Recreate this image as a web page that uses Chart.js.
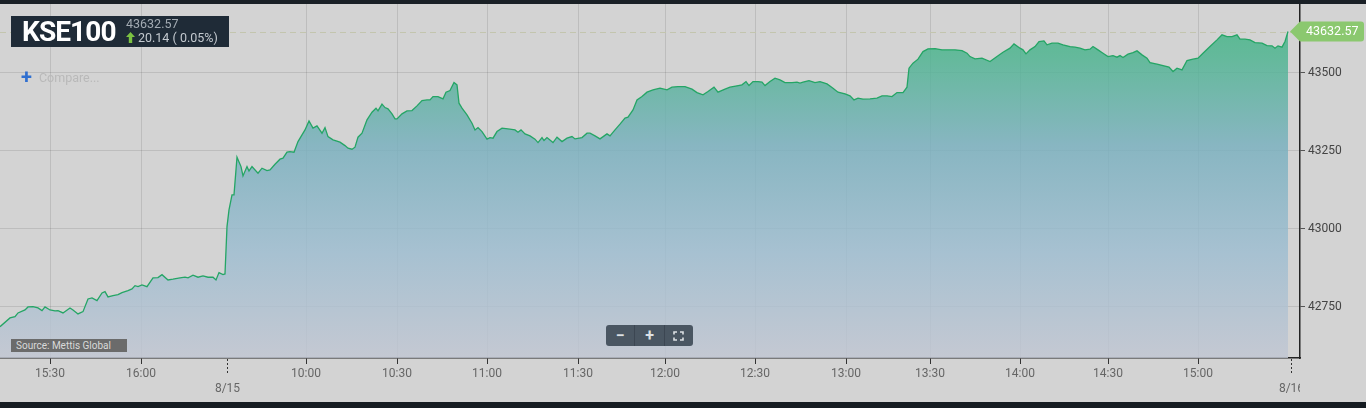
<!DOCTYPE html>
<html><head><meta charset="utf-8">
<script src="https://cdn.jsdelivr.net/npm/chart.js@4.4.1/dist/chart.umd.min.js"></script>
<style>
html,body{margin:0;padding:0;}
body{width:1366px;height:408px;background:#d3d3d3;position:relative;overflow:hidden;font-family:Roboto,'Open Sans',sans-serif;}
#topband{position:absolute;left:0;top:0;width:1366px;height:4px;background:#1a2026;}
#botband{position:absolute;left:0;top:402px;width:1366px;height:6px;background:#161c22;}
#wrap{position:absolute;left:0;top:4px;width:1366px;height:398px;}
#hdr{position:absolute;left:11px;top:16px;width:218px;height:31px;background:#1f2b37;}
#sym{position:absolute;left:11px;top:0px;height:31px;line-height:31px;font-size:28px;font-weight:700;color:#fff;letter-spacing:-0.9px;}
#last{position:absolute;left:115px;top:1px;font-size:12.5px;line-height:14px;color:#a3abb3;}
#chg{position:absolute;left:115px;top:14px;font-size:12.5px;line-height:16px;color:#c3c9cf;white-space:pre;}
#chg svg{vertical-align:-1px;margin-right:3px;}
#cmp{position:absolute;left:21px;top:68px;font-size:12.5px;color:#b9b9b9;line-height:18px;}
#cmp b{color:#2f6fd0;font-size:20px;font-weight:700;margin-right:7px;vertical-align:-2px;}
#src{position:absolute;left:11px;top:339px;width:116px;height:13px;background:#6b6b6b;color:#d9d9d9;font-size:10px;line-height:13px;}
#src span{margin-left:5px;}
#zoom{position:absolute;left:606px;top:325px;width:87px;height:21px;background:#4a5662;border-radius:3px;display:flex;}
#zoom div{width:29px;height:21px;display:flex;align-items:center;justify-content:center;color:#dde1e5;font-weight:700;font-size:16px;}
#zoom div+div{border-left:1px solid #3c4652;}
</style></head>
<body>
<div id="topband"></div>
<div id="wrap"><canvas id="c" width="1366" height="398"></canvas></div>
<div id="botband"></div>
<div id="hdr"><div id="sym">KSE100</div><div id="last"></div><div id="chg"></div></div>
<div id="cmp"><b>+</b>Compare...</div>
<div id="src"><span>Source: Mettis Global</span></div>
<div id="zoom"><div>&#8722;</div><div>+</div><div><svg width="11" height="10" viewBox="0 0 11 10"><path d="M1 3.5V1h3M7 1h3v2.5M10 6.5V9H7M4 9H1V6.5" fill="none" stroke="#dde1e5" stroke-width="1.6"/></svg></div></div>
<script>
// ---- data (elapsed trading seconds along the ordinal axis, index level) ----
const symbol = 'KSE100';
const prevClose = 43612.43;
const times = [
0,200,300,360,500,560,660,760,840,900,
1000,1100,1160,1260,1400,1460,1560,1660,1760,1840,
1940,2040,2100,2160,2260,2360,2440,2560,2640,2700,
2760,2840,2940,3060,3160,3240,3360,3460,3600,3700,
3760,3860,3960,4060,4160,4260,4320,4380,4460,4500,
4540,4580,4640,4680,4740,4820,4860,4940,4980,5040,
5160,5240,5340,5400,5500,5600,5660,5740,5800,5880,
5960,6040,6100,6180,6260,6340,6440,6500,6560,6660,
6800,6900,6960,7040,7100,7160,7240,7340,7440,7520,
7560,7640,7700,7760,7840,7900,7940,8040,8140,8240,
8340,8440,8540,8600,8660,8760,8860,8920,9000,9080,
9140,9180,9240,9340,9440,9500,9560,9640,9740,9800,
9860,9940,10040,10160,10300,10360,10420,10500,10600,10700,
10760,10840,10880,10940,11060,11140,11240,11340,11440,11500,
11640,11740,11800,11900,12000,12140,12200,12300,12400,12500,
12560,12660,12740,12840,12940,13060,13200,13340,13440,13560,
13700,13840,13940,14060,14160,14280,14360,14500,14600,14740,
14840,14920,14980,15060,15160,15240,15300,15400,15500,15600,
15700,15840,15940,16000,16060,16180,16300,16400,16540,16660,
16760,16900,17000,17080,17160,17260,17400,17540,17640,17740,
17840,17940,18060,18140,18180,18260,18360,18460,18560,18700,
18840,18960,19100,19240,19340,19400,19500,19640,19800,19940,
20060,20200,20280,20400,20460,20520,20600,20700,20780,20880,
20940,21040,21160,21260,21400,21500,21600,21700,21800,21860,
21960,22060,22160,22260,22340,22400,22460,22560,22660,22740,
22840,22940,23000,23140,23260,23380,23460,23540,23640,23740,
23860,23960,24060,24200,24340,24440,24540,24640,24740,24800,
24900,25000,25100,25240,25340,25440,25500,25560,25640,25700,
25760];
const values = [
42685.6,42713.5,42717.7,42729.6,42739.2,42748.9,42749.8,42745.6,42737.0,42748.9,
42739.2,42736.0,42737.0,42729.6,42745.6,42739.2,42726.4,42733.8,42774.5,42777.7,
42769.1,42793.8,42798.0,42781.0,42785.1,42788.3,42794.8,42801.2,42806.6,42817.2,
42814.0,42819.5,42814.0,42842.0,42842.9,42852.5,42835.5,42837.8,42842.0,42844.2,
42842.0,42850.6,42844.2,42848.4,42844.2,42844.2,42835.5,42859.0,42852.5,42854.8,
43006.6,43060.2,43108.4,43108.4,43229.4,43199.2,43169.4,43199.2,43185.4,43199.2,
43178.0,43194.1,43186.4,43188.6,43206.9,43223.0,43226.2,43245.4,43247.4,43245.4,
43279.5,43301.0,43317.0,43345.9,43322.5,43329.9,43306.4,43324.4,43295.5,43284.9,
43277.5,43266.6,43258.3,43255.1,43261.5,43293.6,43306.4,43349.1,43373.8,43386.7,
43378.0,43399.5,43388.6,43384.4,43368.4,43352.3,43352.3,43368.4,43378.0,43379.0,
43394.1,43411.1,43413.3,43413.3,43423.9,43423.9,43416.5,43438.0,43443.2,43468.9,
43461.5,43402.7,43386.7,43365.2,43338.5,43317.0,43324.4,43311.6,43287.2,43292.3,
43290.4,43311.6,43322.5,43320.2,43317.0,43309.6,43317.0,43304.2,43297.8,43287.2,
43276.3,43292.3,43282.7,43292.3,43276.3,43293.6,43279.5,43290.4,43295.5,43288.1,
43292.3,43306.4,43306.4,43297.8,43288.1,43304.2,43297.8,43317.0,43335.3,43354.6,
43357.8,43381.2,43413.3,43423.9,43438.0,43445.4,43450.9,43445.4,43454.1,43456.0,
43456.0,43447.7,43436.8,43429.4,43440.0,43454.1,43438.0,43447.7,43454.1,43458.3,
43461.5,43472.1,43459.2,43472.1,43472.1,43470.1,43459.2,43472.1,43483.0,43477.5,
43468.9,43468.9,43470.1,43466.9,43470.1,43475.3,43468.9,43472.1,43464.7,43450.9,
43438.0,43432.6,43426.2,43413.3,43418.8,43415.6,43416.5,43418.8,43426.2,43426.2,
43423.9,43436.8,43436.8,43454.1,43515.1,43531.1,43544.0,43568.4,43577.0,43578.0,
43573.8,43573.8,43573.8,43571.6,43563.2,43552.3,43544.9,43547.2,43536.3,43552.3,
43566.4,43579.3,43593.1,43579.3,43573.8,43561.0,43573.8,43584.4,43600.5,43602.7,
43589.9,43595.3,43595.3,43589.9,43584.4,43582.5,43579.3,43573.8,43576.1,43584.4,
43573.8,43563.2,43552.3,43555.5,43550.4,43555.5,43549.1,43560.0,43565.2,43570.6,
43557.8,43547.2,43533.1,43527.9,43523.4,43518.3,43504.2,43515.1,43509.6,43539.5,
43544.0,43547.2,43563.2,43584.4,43605.9,43622.0,43616.5,43616.5,43622.0,43608.2,
43608.2,43605.9,43597.3,43595.3,43587.6,43586.7,43579.3,43586.7,43582.5,43600.5,
43632.57];
const tickSecs = [1000,2820,4540,6120,7940,9740,11560,13300,15100,16920,18600,20400,22160,23960,25820];
const tickLabels = ['15:30','16:00','8/15','10:00','10:30','11:00','11:30','12:00','12:30','13:00','13:30','14:00','14:30','15:00','8/16'];
const yTicks = [42750,43000,43250,43500];
const xMin = 0, xMax = 26000;
const yMin = 42585, yMax = 43721;

// ---- header texts from data ----
const lastValue = values[values.length-1];
const change = lastValue - prevClose;
document.getElementById('last').textContent = lastValue.toFixed(2);
document.getElementById('chg').innerHTML = '<svg width="9" height="11" viewBox="0 0 9 11"><path d="M4.5 0L9 5H6.2V11H2.8V5H0Z" fill="#7cc242"/></svg>' +
  change.toFixed(2) + ' ( ' + (change/prevClose*100).toFixed(2) + '%)';

const isDate = s => s.indexOf('/') >= 0;

const overlay = {
  id: 'overlay',
  beforeDatasetsDraw(chart){
    const {ctx, chartArea:a, scales:{y}} = chart;
    const py = Math.round(y.getPixelForValue(lastValue)) + 0.5;
    ctx.save();
    ctx.strokeStyle = '#c3c5ae'; ctx.lineWidth = 1; ctx.setLineDash([6,4]);
    ctx.beginPath(); ctx.moveTo(a.left, py); ctx.lineTo(a.right, py); ctx.stroke();
    ctx.restore();
  },
  afterDraw(chart){
    const {ctx, chartArea:a, scales:{x,y}} = chart;
    ctx.save();
    tickSecs.forEach((v,i)=>{
      if(!isDate(tickLabels[i])) return;
      const px = Math.round(x.getPixelForValue(v)) + 0.5;
      ctx.save();
      ctx.strokeStyle = '#333'; ctx.lineWidth = 1; ctx.setLineDash([2,2]);
      ctx.beginPath(); ctx.moveTo(px, a.bottom + 1); ctx.lineTo(px, a.bottom + 15); ctx.stroke();
      ctx.beginPath(); ctx.rect(0, a.bottom, a.right, 60); ctx.clip();
      ctx.fillStyle = '#666'; ctx.font = '12px Roboto'; ctx.textAlign = 'center'; ctx.textBaseline = 'middle';
      ctx.fillText(tickLabels[i], px, a.bottom + 31);
      ctx.restore();
    });
    // last price tag
    const py = y.getPixelForValue(lastValue);
    const tip = x.getPixelForValue(times[times.length-1]) + 2;
    const L = a.right, R = 1364, h = 10, r = 3;
    ctx.fillStyle = '#8bc86f';
    ctx.beginPath();
    ctx.moveTo(tip, py);
    ctx.lineTo(L, py - h);
    ctx.lineTo(R - r, py - h);
    ctx.quadraticCurveTo(R, py - h, R, py - h + r);
    ctx.lineTo(R, py + h - r);
    ctx.quadraticCurveTo(R, py + h, R - r, py + h);
    ctx.lineTo(L, py + h);
    ctx.closePath(); ctx.fill();
    ctx.fillStyle = '#ffffff'; ctx.font = '12.5px Roboto'; ctx.textAlign = 'left'; ctx.textBaseline = 'middle';
    ctx.fillText(lastValue.toFixed(2), L + 6, py + 0.5);
    ctx.restore();
  }
};

const ctx = document.getElementById('c').getContext('2d');
new Chart(ctx, {
  type: 'line',
  data: {
    datasets: [{
      label: symbol,
      data: times.map((t,i)=>({x:t, y:values[i]})),
      borderColor: '#24a565',
      borderWidth: 1.3,
      pointRadius: 0,
      tension: 0,
      fill: 'start',
      backgroundColor: (c) => {
        const a = c.chart.chartArea;
        if (!a) return 'rgba(100,180,160,0.8)';
        const g = c.chart.ctx.createLinearGradient(0, a.top, 0, a.bottom);
        g.addColorStop(0.00, 'rgba(60,180,125,0.85)');
        g.addColorStop(0.15, 'rgba(80,180,145,0.85)');
        g.addColorStop(0.40, 'rgba(122,176,190,0.85)');
        g.addColorStop(0.70, 'rgba(158,189,208,0.85)');
        g.addColorStop(1.00, 'rgba(193,198,210,0.85)');
        return g;
      }
    }]
  },
  options: {
    responsive: false,
    devicePixelRatio: 1,
    animation: false,
    layout: { padding: 0 },
    plugins: { legend: { display: false }, tooltip: { enabled: false } },
    scales: {
      x: {
        type: 'linear', position: 'bottom', min: xMin, max: xMax,
        afterBuildTicks: s => { s.ticks = tickSecs.map(v => ({value: v})); },
        afterFit: s => { s.height = 44; s.paddingLeft = 0; s.paddingRight = 0; },
        ticks: {
          autoSkip: false, maxRotation: 0, minRotation: 0, padding: 3,
          color: '#666', font: { family: 'Roboto', size: 12 },
          callback: (v, i) => isDate(tickLabels[i]) ? '' : tickLabels[i]
        },
        grid: {
          color: c => (c.tick && isDate(tickLabels[c.index])) ? 'rgba(0,0,0,0)' : 'rgba(0,0,0,0.1)',
          tickColor: c => (c.tick && isDate(tickLabels[c.index])) ? 'rgba(0,0,0,0)' : '#333',
          tickLength: 6, lineWidth: 1
        },
        border: { display: true, color: '#222', width: 1.5 }
      },
      y: {
        type: 'linear', position: 'right', min: yMin, max: yMax,
        afterBuildTicks: s => { s.ticks = yTicks.map(v => ({value: v})); },
        afterFit: s => { s.width = 66; s.paddingTop = 0; s.paddingBottom = 0; },
        ticks: { padding: 3, color: '#444', font: { family: 'Roboto', size: 12 }, callback: v => String(v) },
        grid: { color: 'rgba(0,0,0,0.1)', tickColor: '#555', tickLength: 5, lineWidth: 1 },
        border: { display: true, color: '#222', width: 1.5 }
      }
    }
  },
  plugins: [overlay]
});
</script>
</body></html>
